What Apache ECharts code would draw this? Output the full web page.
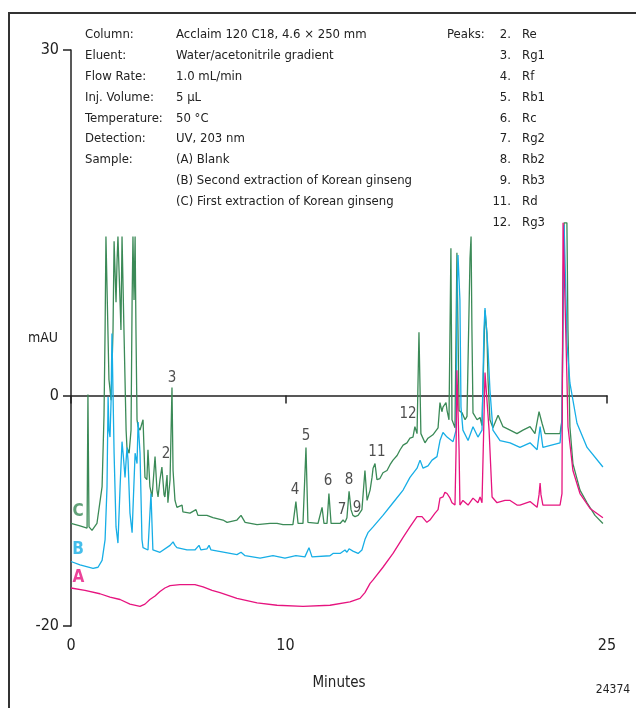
<!DOCTYPE html>
<html>
<head>
<meta charset="utf-8">
<script src="https://cdn.jsdelivr.net/npm/echarts@6/dist/echarts.min.js"></script>
<style>
html,body{margin:0;padding:0;background:#fff;}
#chart{width:636px;height:708px;}
</style>
</head>
<body>
<div id="chart"></div>
<script>
// ---- Data (minutes, mAU) ----
var traceC = [
[0,-11.1],[0.42,-11.3],[0.75,-11.5],[0.79,0.1],[0.84,-11.4],[0.98,-11.7],[1.21,-11.1],[1.45,-7.9],[1.54,-1.7],[1.59,5.7],[1.63,13.8],[1.68,13.8],[1.77,1.4],[1.87,-0.4],[1.96,5.7],[2.01,13.4],[2.05,13.4],[2.10,8.1],[2.15,11.8],[2.19,13.8],[2.24,13.8],[2.33,5.7],[2.38,13.8],[2.43,13.8],[2.47,5.7],[2.57,-3.0],[2.61,-4.5],[2.71,-5.0],[2.80,-3.0],[2.85,8.3],[2.89,13.8],[2.94,8.3],[2.99,13.8],[3.03,5.7],[3.08,-2.1],[3.13,-2.7],[3.22,-3.0],[3.31,-2.4],[3.36,-2.1],[3.45,-7.1],[3.54,-7.3],[3.59,-4.7],[3.68,-7.9],[3.78,-8.8],[3.92,-5.3],[4.01,-8.2],[4.06,-8.8],[4.15,-7.3],[4.24,-6.2],[4.34,-8.6],[4.38,-8.8],[4.48,-6.9],[4.52,-9.3],[4.62,-7.3],[4.71,0.7],[4.76,-6.5],[4.85,-9.1],[4.94,-9.7],[5.18,-9.5],[5.22,-10.1],[5.55,-10.2],[5.83,-9.9],[5.92,-10.4],[6.34,-10.4],[6.62,-10.6],[7.09,-10.8],[7.28,-11.0],[7.74,-10.8],[7.93,-10.4],[8.12,-11.0],[8.68,-11.2],[9.28,-11.1],[9.61,-11.1],[9.89,-11.2],[10.35,-11.2],[10.49,-9.2],[10.59,-11.1],[10.82,-11.1],[10.96,-4.5],[11.05,-11.0],[11.52,-11.1],[11.71,-9.7],[11.80,-11.1],[11.94,-11.1],[12.03,-8.5],[12.13,-11.1],[12.55,-11.1],[12.69,-10.8],[12.78,-11.0],[12.87,-10.6],[12.97,-8.3],[13.06,-9.9],[13.15,-10.4],[13.25,-10.5],[13.39,-10.4],[13.57,-9.9],[13.71,-6.5],[13.81,-9.1],[13.95,-8.2],[14.04,-7.1],[14.09,-6.3],[14.18,-5.9],[14.27,-7.3],[14.41,-7.2],[14.55,-6.7],[14.74,-6.5],[14.88,-6.0],[15.02,-5.6],[15.21,-5.2],[15.35,-4.7],[15.49,-4.3],[15.67,-4.1],[15.81,-3.7],[15.95,-3.6],[16.04,-2.7],[16.14,-3.3],[16.23,5.5],[16.32,-3.3],[16.51,-4.1],[16.65,-3.7],[16.88,-3.4],[17.12,-2.8],[17.21,-0.6],[17.30,-1.4],[17.35,-1.0],[17.49,-0.6],[17.54,-1.3],[17.63,-2.1],[17.72,12.8],[17.77,-2.1],[17.91,-2.8],[18.00,12.4],[18.05,5.7],[18.10,-1.3],[18.24,-1.5],[18.38,-2.1],[18.47,-1.8],[18.61,11.9],[18.66,13.8],[18.70,5.7],[18.75,-1.5],[18.94,-2.1],[19.08,-1.9],[19.17,-2.6],[19.31,7.4],[19.40,5.4],[19.45,1.4],[19.54,-2.1],[19.68,-2.8],[19.92,-1.7],[20.15,-2.7],[20.48,-3.0],[20.80,-3.3],[21.08,-3.0],[21.41,-2.7],[21.64,-3.3],[21.83,-1.4],[21.97,-2.4],[22.11,-3.3],[22.81,-3.3],[22.90,-2.1],[22.95,7.4],[23.00,15.0],[23.13,15.0],[23.18,5.7],[23.27,-2.7],[23.41,-5.9],[23.74,-8.2],[24.07,-9.3],[24.44,-10.4],[24.81,-11.1]
];
var traceB = [
[0,-14.4],[0.42,-14.7],[1.03,-15.0],[1.26,-14.9],[1.45,-14.3],[1.59,-12.5],[1.68,-7.9],[1.73,-0.1],[1.77,-3.0],[1.82,-3.6],[1.87,-0.4],[1.91,5.4],[1.96,5.5],[2.01,-5.0],[2.10,-11.4],[2.19,-12.8],[2.29,-7.9],[2.38,-4.0],[2.43,-5.0],[2.52,-7.1],[2.61,-4.5],[2.66,-5.6],[2.75,-10.2],[2.85,-11.9],[2.89,-9.9],[2.99,-5.0],[3.08,-5.9],[3.13,-2.3],[3.22,-5.0],[3.31,-12.5],[3.36,-13.2],[3.59,-13.4],[3.73,-8.5],[3.82,-13.4],[4.15,-13.6],[4.62,-13.0],[4.76,-12.7],[4.85,-13.0],[4.94,-13.2],[5.41,-13.4],[5.78,-13.4],[5.97,-13.0],[6.06,-13.4],[6.34,-13.3],[6.44,-13.0],[6.53,-13.4],[7.74,-13.8],[7.93,-13.6],[8.12,-13.9],[8.82,-14.1],[9.42,-13.9],[9.98,-14.1],[10.49,-13.9],[10.91,-14.0],[11.10,-13.2],[11.24,-14.0],[12.08,-13.9],[12.22,-13.7],[12.55,-13.7],[12.78,-13.4],[12.87,-13.6],[12.97,-13.3],[13.15,-13.5],[13.39,-13.7],[13.57,-13.4],[13.71,-12.5],[13.85,-11.9],[14.09,-11.4],[14.55,-10.4],[15.02,-9.3],[15.49,-8.2],[15.81,-7.1],[16.14,-6.3],[16.28,-5.6],[16.42,-6.3],[16.65,-6.1],[16.84,-5.6],[17.07,-5.3],[17.21,-3.9],[17.35,-3.2],[17.54,-3.6],[17.82,-4.0],[17.96,-3.0],[18.00,8.3],[18.05,12.2],[18.10,12.2],[18.14,8.3],[18.19,-1.0],[18.28,-3.0],[18.52,-3.9],[18.75,-2.7],[18.98,-3.6],[19.17,-3.0],[19.26,5.7],[19.31,7.6],[19.40,7.6],[19.45,4.0],[19.54,0.5],[19.68,-3.0],[20.01,-3.9],[20.48,-4.1],[20.94,-4.5],[21.41,-4.1],[21.74,-4.7],[21.88,-2.7],[22.01,-4.5],[22.81,-4.1],[22.90,-2.1],[22.95,8.3],[23.00,14.8],[23.04,14.8],[23.09,8.3],[23.13,4.6],[23.27,1.1],[23.60,-2.4],[24.07,-4.5],[24.81,-6.2]
];
var traceA = [
[0,-16.7],[0.65,-16.9],[1.35,-17.2],[1.82,-17.5],[2.29,-17.7],[2.75,-18.1],[3.22,-18.3],[3.45,-18.1],[3.68,-17.7],[3.92,-17.4],[4.15,-17.0],[4.38,-16.7],[4.62,-16.5],[5.08,-16.4],[5.41,-16.4],[5.78,-16.4],[6.16,-16.6],[6.58,-16.9],[6.95,-17.1],[7.74,-17.6],[8.68,-18.0],[9.61,-18.2],[10.82,-18.3],[12.08,-18.2],[13.01,-17.9],[13.48,-17.6],[13.71,-17.1],[13.95,-16.3],[14.09,-16.0],[14.55,-14.9],[15.02,-13.7],[15.49,-12.3],[15.81,-11.4],[16.14,-10.5],[16.37,-10.5],[16.60,-11.0],[16.74,-10.8],[16.98,-10.2],[17.12,-9.9],[17.21,-8.9],[17.35,-8.8],[17.44,-8.4],[17.54,-8.5],[17.68,-8.9],[17.77,-9.3],[17.91,-9.5],[17.96,-4.7],[18.00,2.2],[18.05,2.2],[18.10,-4.7],[18.14,-9.5],[18.28,-9.1],[18.52,-9.5],[18.75,-8.9],[18.98,-9.3],[19.08,-8.8],[19.17,-9.3],[19.26,-2.1],[19.31,2.0],[19.40,2.0],[19.50,-3.0],[19.64,-8.8],[19.87,-9.3],[20.24,-9.1],[20.48,-9.1],[20.80,-9.5],[20.94,-9.5],[21.41,-9.2],[21.74,-9.7],[21.83,-8.6],[21.88,-7.6],[21.92,-8.6],[22.01,-9.5],[22.81,-9.5],[22.90,-8.5],[22.95,15.0],[23.04,15.0],[23.13,1.6],[23.18,-2.7],[23.41,-6.5],[23.74,-8.5],[24.21,-9.8],[24.81,-10.6]
];
// peak number labels: [time, mAU, text]
var peakLabels = [
[4.71,1.5,'3'],[4.43,-5.1,'2'],[10.96,-3.5,'5'],[10.45,-8.2,'4'],[11.99,-7.4,'6'],
[12.64,-9.9,'7'],[12.97,-7.3,'8'],[13.34,-9.8,'9'],[14.27,-4.9,'11'],[15.72,-1.6,'12']
];
// trace letters: [time, mAU, text]
var traceLetters = [[0.33,-10.1,'C'],[0.33,-13.4,'B'],[0.35,-15.8,'A']];
var xTicks = [0, 10, 25];
var yTicks = [-20, 0, 30];
var condLabels = ['Column:','Eluent:','Flow Rate:','Inj. Volume:','Temperature:','Detection:','Sample:','',''];
var condValues = ['Acclaim 120 C18, 4.6 \u00d7 250 mm','Water/acetonitrile gradient','1.0 mL/min','5 \u00b5L','50 \u00b0C','UV, 203 nm','(A) Blank','(B) Second extraction of Korean ginseng','(C) First extraction of Korean ginseng'];
var peakNums = ['2.','3.','4.','5.','6.','7.','8.','9.','11.','12.'];
var peakNames = ['Re','Rg1','Rf','Rb1','Rc','Rg2','Rb2','Rb3','Rd','Rg3'];

var colC = '#3b8a57', colB = '#17aee6', colA = '#e6147f';
var FONT = '"DejaVu Sans Condensed","Liberation Sans Narrow","Roboto",sans-serif';

var chart = echarts.init(document.getElementById('chart'), null, {renderer:'canvas'});

function txt(x, y, s, size, align){
  return {type:'text', x:x, y:y, style:{text:s, font:size+'px '+FONT, fill:'#222',
    textAlign:align||'left', align:align||'left', textVerticalAlign:'middle', verticalAlign:'middle'}};
}
var graphics = [
  {type:'line', shape:{x1:8,y1:13,x2:636,y2:13}, style:{stroke:'#333',lineWidth:2}},
  {type:'line', shape:{x1:9,y1:13,x2:9,y2:708}, style:{stroke:'#333',lineWidth:2}},
  txt(43, 338, 'mAU', 14, 'center'),
  txt(613, 690, '24374', 12, 'center'),
  txt(447, 35, 'Peaks:', 13)
];
var lineH = 20.8;
for (var i=0;i<condLabels.length;i++){
  var yy = 35 + i*lineH;
  if (condLabels[i]) graphics.push(txt(85, yy, condLabels[i], 13));
  graphics.push(txt(176, yy, condValues[i], 13));
}
for (var j=0;j<peakNums.length;j++){
  var y2 = 35 + j*lineH;
  graphics.push(txt(511, y2, peakNums[j], 13, 'right'));
  graphics.push(txt(522, y2, peakNames[j], 13));
}

function lineSeries(name, data, color){
  return {name:name, type:'line', data:data, showSymbol:false, symbol:'none', smooth:false,
    lineStyle:{color:color, width:1.3}, itemStyle:{color:color}, animation:false, z:2};
}

var letterColors = [colC, colB, colA];
var option = {
  animation:false,
  backgroundColor:'#fff',
  grid:{left:71, right:29, top:50, bottom:82, containLabel:false},
  xAxis:{
    type:'value', min:0, max:25,
    axisLine:{show:true, lineStyle:{color:'#222', width:1.5}},
    axisTick:{show:true, length:8, lineStyle:{color:'#222', width:1.5}, customValues:xTicks},
    axisLabel:{show:true, customValues:xTicks, margin:12, fontSize:16, fontFamily:FONT, color:'#222'},
    splitLine:{show:false},
    name:'Minutes', nameLocation:'middle', nameGap:50,
    nameTextStyle:{fontSize:15, fontFamily:FONT, color:'#222'}
  },
  yAxis:{
    type:'value', min:-20, max:30,
    axisLine:{show:true, lineStyle:{color:'#222', width:1.5}},
    axisTick:{show:true, length:8, lineStyle:{color:'#222', width:1.5}, customValues:yTicks},
    axisLabel:{show:true, customValues:yTicks, margin:12, fontSize:16, fontFamily:FONT, color:'#222'},
    splitLine:{show:false}
  },
  graphic:graphics,
  series:[
    lineSeries('C', traceC, colC),
    lineSeries('B', traceB, colB),
    lineSeries('A', traceA, colA),
    {type:'scatter', data:peakLabels.map(function(p){return [p[0],p[1],p[2]];}), symbolSize:0, silent:true, z:5,
      label:{show:true, position:'inside', formatter:function(p){return p.value[2];}, fontSize:15, fontFamily:FONT, color:'#222'}},
    {type:'scatter', symbolSize:0, silent:true, z:5,
      data:traceLetters.map(function(p, k){ return {value:[p[0],p[1],p[2]], label:{color:letterColors[k]}}; }),
      label:{show:true, position:'inside', formatter:function(p){return p.value[2];}, fontSize:17, fontWeight:'bold', fontFamily:FONT}}
  ]
};
chart.setOption(option);
</script>
</body>
</html>
